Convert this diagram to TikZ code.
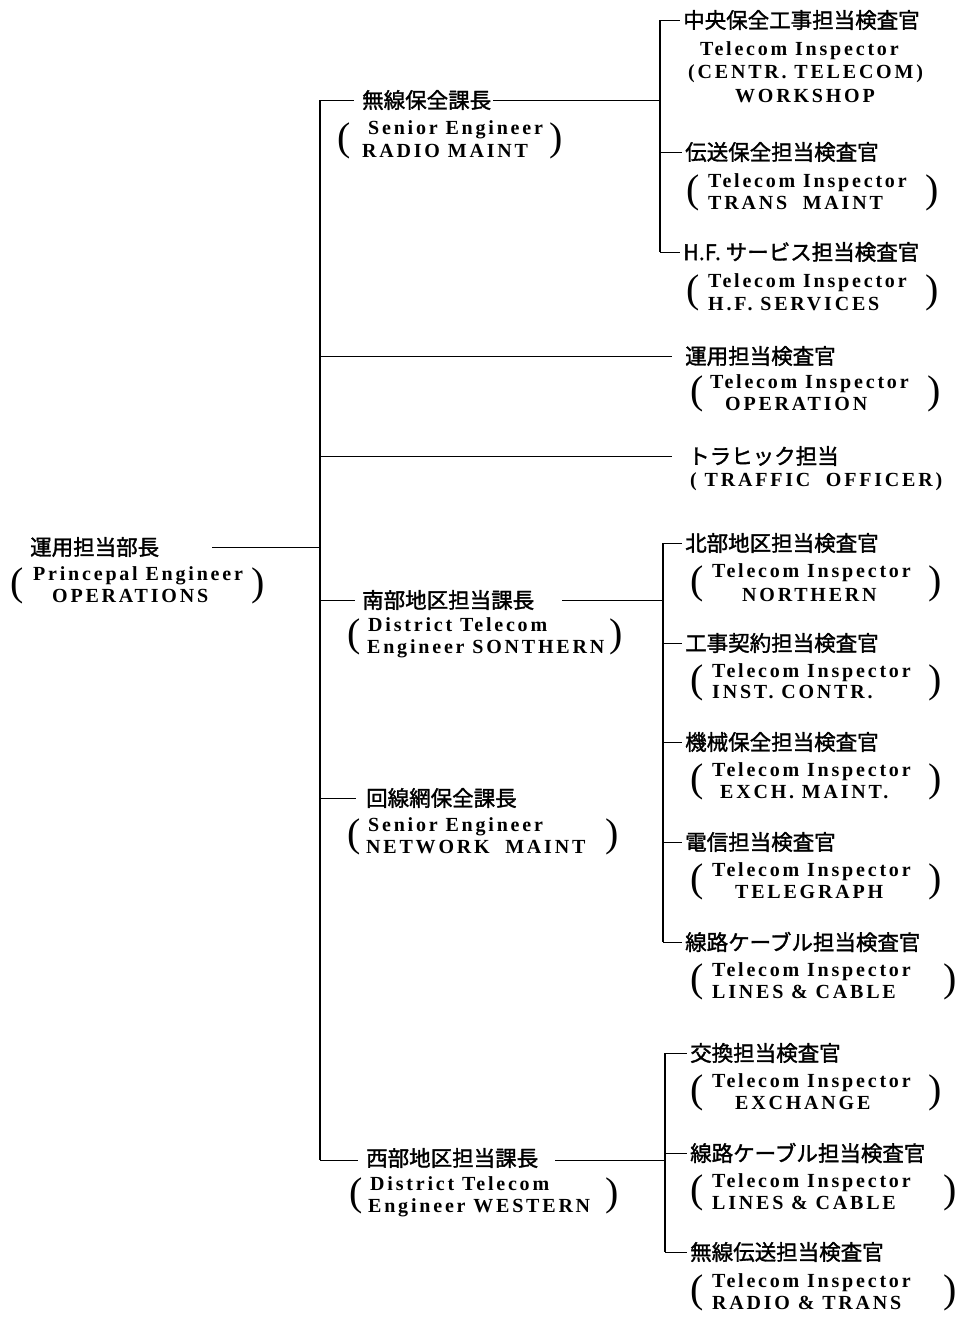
\documentclass[tikz,border=0pt]{standalone}
\usepackage{fontspec}
\newfontfamily\jpf{Noto Sans CJK JP}[FakeBold=1.5]
\newfontfamily\enf{Liberation Serif}[LetterSpace=14]
\newfontfamily\pf{Liberation Serif}
\tikzset{
  jp/.style={font=\jpf\fontsize{21.5}{21.5}\selectfont, inner sep=0pt, anchor=west},
  en/.style={font=\enf\bfseries\fontsize{20}{20}\selectfont, inner sep=0pt, anchor=west, text height=13.5pt, text depth=3.5pt},
  bigp/.style={font=\pf\fontsize{40}{40}\selectfont, inner sep=0pt},
  hline/.style={line width=1pt},
  vbar/.style={line width=2.8pt},
  sbar/.style={line width=2.4pt}
}
\begin{document}
\begin{tikzpicture}[x=1pt,y=-1pt]
\useasboundingbox (0,0) rectangle (979,1317);
% ---------- left head ----------
\node[jp] (opsJ) at (30,547) {運用担当部長};
\node[bigp] (opsP1) at (17,586) {(};
\node[en] (opsE1) at (33,575) {Princepal Engineer};
\node[en] (opsE2) at (52,597) {OPERATIONS};
\node[bigp] (opsP2) at (258,586) {)};
% ---------- main bar ----------
\coordinate (mtop) at (320,100);
\coordinate (mbot) at (320,1160);
\coordinate (mOp) at (320,356);
\coordinate (mTr) at (320,456);
\coordinate (mS) at (320,600);
\coordinate (mN) at (320,798);
\draw[vbar] (mtop) -- (mbot);
\draw[hline] ([xshift=53pt]opsJ.east) -- (opsJ.east -| mtop);
% ---------- Radio maint ----------
\node[jp] (radJ) at (362,100) {無線保全課長};
\node[bigp] (radP1) at (344,141) {(};
\node[en] (radE1) at (368,129) {Senior Engineer};
\node[en] (radE2) at (362,152) {RADIO MAINT};
\node[bigp] (radP2) at (556,141) {)};
\coordinate (sAt) at (660,20);
\coordinate (sAm) at (660,100);
\coordinate (sAb) at (660,252);
\draw[hline] (mtop) -- ([xshift=-8pt]radJ.west);
\draw[hline] ([xshift=2pt]radJ.east) -- (sAm);
\draw[sbar] (sAt) -- (sAb);
\node[jp] (a1J) at (683,20) {中央保全工事担当検査官};
\node[en] (a1E1) at (700,50) {Telecom Inspector};
\node[en] (a1E2) at (688,73) {(CENTR. TELECOM)};
\node[en] (a1E3) at (735,97) {WORKSHOP};
\draw[hline] (sAt) -- ([xshift=-3pt]a1J.west);
\node[jp] (a2J) at (685,152) {伝送保全担当検査官};
\node[bigp] (a2P1) at (693,193) {(};
\node[en] (a2E1) at (708,182) {Telecom Inspector};
\node[en] (a2E2) at (708,204) {TRANS\ \ MAINT};
\node[bigp] (a2P2) at (932,193) {)};
\draw[hline] (a2J.west -| sAt) -- ([xshift=-3pt]a2J.west);
\node[jp] (a3J) at (683,252) {H.F. サービス担当検査官};
\node[bigp] (a3P1) at (693,293) {(};
\node[en] (a3E1) at (708,282) {Telecom Inspector};
\node[en] (a3E2) at (708,305) {H.F. SERVICES};
\node[bigp] (a3P2) at (932,293) {)};
\draw[hline] (sAb) -- ([xshift=-3pt]a3J.west);
% ---------- Operation ----------
\node[jp] (opJ) at (685,356) {運用担当検査官};
\node[bigp] (opP1) at (697,394) {(};
\node[en] (opE1) at (710,383) {Telecom Inspector};
\node[en] (opE2) at (725,405) {OPERATION};
\node[bigp] (opP2) at (934,394) {)};
\draw[hline] (mOp) -- ([xshift=-13pt]opJ.west);
% ---------- Traffic ----------
\node[jp] (trJ) at (688,456) {トラヒック担当};
\node[en] (trE) at (690,481) {(\ TRAFFIC\ \ OFFICER)};
\draw[hline] (mTr) -- ([xshift=-16pt]trJ.west);
% ---------- Southern ----------
\node[jp] (souJ) at (362,600) {南部地区担当課長};
\node[bigp] (souP1) at (354,637) {(};
\node[en] (souE1) at (368,626) {District Telecom};
\node[en] (souE2) at (367,648) {Engineer SONTHERN};
\node[bigp] (souP2) at (616,637) {)};
\coordinate (sBt) at (663,543);
\coordinate (sBm) at (663,600);
\coordinate (sBb) at (663,942);
\draw[hline] (mS) -- ([xshift=-7pt]souJ.west);
\draw[hline] ([xshift=28pt]souJ.east) -- (sBm);
\draw[sbar] (sBt) -- (sBb);
\node[jp] (b1J) at (685,543) {北部地区担当検査官};
\node[bigp] (b1P1) at (697,584) {(};
\node[en] (b1E1) at (712,572) {Telecom Inspector};
\node[en] (b1E2) at (742,596) {NORTHERN};
\node[bigp] (b1P2) at (935,584) {)};
\draw[hline] (sBt) -- ([xshift=-3pt]b1J.west);
\node[jp] (b2J) at (685,643) {工事契約担当検査官};
\node[bigp] (b2P1) at (697,683) {(};
\node[en] (b2E1) at (712,672) {Telecom Inspector};
\node[en] (b2E2) at (712,693) {INST. CONTR.};
\node[bigp] (b2P2) at (935,683) {)};
\draw[hline] (b2J.west -| sBt) -- ([xshift=-3pt]b2J.west);
\node[jp] (b3J) at (685,742) {機械保全担当検査官};
\node[bigp] (b3P1) at (697,782) {(};
\node[en] (b3E1) at (712,771) {Telecom Inspector};
\node[en] (b3E2) at (720,793) {EXCH. MAINT.};
\node[bigp] (b3P2) at (935,782) {)};
\draw[hline] (b3J.west -| sBt) -- ([xshift=-3pt]b3J.west);
\node[jp] (b4J) at (685,842) {電信担当検査官};
\node[bigp] (b4P1) at (697,882) {(};
\node[en] (b4E1) at (712,871) {Telecom Inspector};
\node[en] (b4E2) at (735,893) {TELEGRAPH};
\node[bigp] (b4P2) at (935,882) {)};
\draw[hline] (b4J.west -| sBt) -- ([xshift=-3pt]b4J.west);
\node[jp] (b5J) at (685,942) {線路ケーブル担当検査官};
\node[bigp] (b5P1) at (697,982) {(};
\node[en] (b5E1) at (712,971) {Telecom Inspector};
\node[en] (b5E2) at (712,993) {LINES \& CABLE};
\node[bigp] (b5P2) at (950,982) {)};
\draw[hline] (sBb) -- ([xshift=-3pt]b5J.west);
% ---------- Network ----------
\node[jp] (netJ) at (366,798) {回線網保全課長};
\node[bigp] (netP1) at (354,837) {(};
\node[en] (netE1) at (368,826) {Senior Engineer};
\node[en] (netE2) at (366,848) {NETWORK\ \ MAINT};
\node[bigp] (netP2) at (612,837) {)};
\draw[hline] (mN) -- ([xshift=-10pt]netJ.west);
% ---------- Western ----------
\node[jp] (wesJ) at (366,1158) {西部地区担当課長};
\node[bigp] (wesP1) at (356,1196) {(};
\node[en] (wesE1) at (370,1185) {District Telecom};
\node[en] (wesE2) at (368,1207) {Engineer WESTERN};
\node[bigp] (wesP2) at (612,1196) {)};
\coordinate (sCt) at (665,1053);
\coordinate (sCm) at (665,1160);
\coordinate (sCb) at (665,1252);
\draw[hline] (mbot) -- ([xshift=-8pt]wesJ.west |- mbot);
\draw[hline] ([xshift=17pt]wesJ.east |- sCm) -- (sCm);
\draw[sbar] (sCt) -- (sCb);
\node[jp] (c1J) at (690,1053) {交換担当検査官};
\node[bigp] (c1P1) at (697,1093) {(};
\node[en] (c1E1) at (712,1082) {Telecom Inspector};
\node[en] (c1E2) at (735,1104) {EXCHANGE};
\node[bigp] (c1P2) at (935,1093) {)};
\draw[hline] (sCt) -- ([xshift=-3pt]c1J.west);
\node[jp] (c2J) at (690,1153) {線路ケーブル担当検査官};
\node[bigp] (c2P1) at (697,1193) {(};
\node[en] (c2E1) at (712,1182) {Telecom Inspector};
\node[en] (c2E2) at (712,1204) {LINES \& CABLE};
\node[bigp] (c2P2) at (950,1193) {)};
\draw[hline] (c2J.west -| sCt) -- ([xshift=-3pt]c2J.west);
\node[jp] (c3J) at (690,1252) {無線伝送担当検査官};
\node[bigp] (c3P1) at (697,1293) {(};
\node[en] (c3E1) at (712,1282) {Telecom Inspector};
\node[en] (c3E2) at (712,1304) {RADIO \& TRANS};
\node[bigp] (c3P2) at (950,1293) {)};
\draw[hline] (sCb) -- ([xshift=-3pt]c3J.west);
\end{tikzpicture}
\end{document}
